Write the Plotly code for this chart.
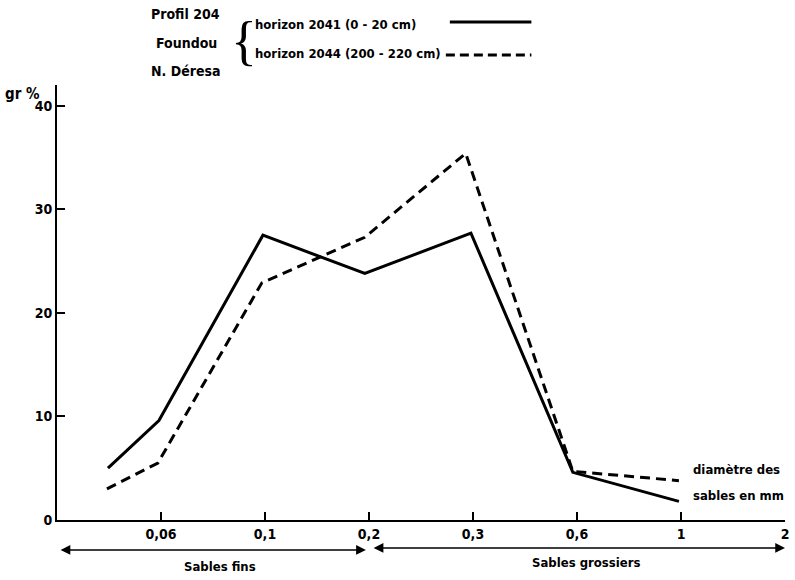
import plotly.graph_objects as go

# ---- data ----
tick_labels = ["0,06", "0,1", "0,2", "0,3", "0,6", "1", "2"]
tick_pos = [1, 2, 3, 4, 5, 6, 7]
y_ticks = [0, 10, 20, 30, 40]

x_2041 = [0.49, 0.98, 1.98, 2.96, 3.98, 4.96, 5.98]
y_2041 = [5.0, 9.6, 27.5, 23.8, 27.7, 4.6, 1.8]

x_2044 = [0.48, 0.97, 1.97, 2.96, 3.93, 4.96, 5.98]
y_2044 = [3.0, 5.5, 22.9, 27.3, 35.4, 4.7, 3.8]

FONT = "DejaVu Sans Condensed, Liberation Sans Narrow, Roboto, sans-serif"

W, H = 795, 580
L, R, T, B = 57, 6, 85, 60
XMAX, YMAX = 7.0, 42.0
pw, ph = W - L - R, H - T - B


def px_x(px):
    return (px - L) / pw


def px_y(py):
    return (H - B - py) / ph


fig = go.Figure()
fig.add_trace(go.Scatter(x=x_2041, y=y_2041, mode="lines",
                         line=dict(color="black", width=3), showlegend=False))
fig.add_trace(go.Scatter(x=x_2044, y=y_2044, mode="lines",
                         line=dict(color="black", width=3, dash="10px,6px"), showlegend=False))

fig.update_layout(
    width=W, height=H,
    margin=dict(l=L, r=R, t=T, b=B),
    paper_bgcolor="white", plot_bgcolor="white",
    font=dict(family=FONT, size=15, color="black"),
    showlegend=False,
)
fig.update_xaxes(range=[0, XMAX], tickvals=tick_pos, ticktext=tick_labels,
                 showgrid=False, zeroline=False, showline=True, linecolor="black", linewidth=2,
                 ticks="inside", ticklen=8, tickwidth=2, tickcolor="black",
                 tickfont=dict(family=FONT, size=14, color="black", weight="bold"))
fig.update_yaxes(range=[0, YMAX], tickvals=y_ticks,
                 showgrid=False, zeroline=False, showline=True, linecolor="black", linewidth=2,
                 ticks="inside", ticklen=8, tickwidth=2, tickcolor="black",
                 tickfont=dict(family=FONT, size=14, color="black", weight="bold"))

ann = []


def text(s, px, py, size=15, anchor="center", weight="bold"):
    ann.append(dict(text=s, xref="paper", yref="paper",
                    x=px_x(px), y=px_y(py), xanchor=anchor, yanchor="middle",
                    showarrow=False,
                    font=dict(family=FONT, size=size, color="black", weight=weight)))


text("Profil 204", 186, 14, size=14)
text("Foundou", 187, 43, size=14)
text("N. Déresa", 186, 71, size=14)
text("horizon 2041 (0 - 20 cm)", 254, 24, size=13, anchor="left")
text("horizon 2044 (200 - 220 cm)", 254, 53, size=13, anchor="left")
text("gr %", 22, 94, size=15)
text("diamètre des", 740, 469, size=13)
text("sables en mm", 742, 495, size=13)
text("Sables fins", 221, 566, size=13)
text("Sables grossiers", 589, 562, size=13)

ann.append(dict(text="{", xref="paper", yref="paper", x=px_x(245), y=px_y(41),
                xanchor="center", yanchor="middle", showarrow=False,
                font=dict(family="Liberation Serif, DejaVu Serif, serif", size=54, color="black")))

# range arrows under the axis
for x0, x1, py in [(0.02, 2.97, 550), (3.03, 7.0, 548)]:
    ann.append(dict(xref="x", yref="paper", axref="x", ayref="y domain",
                    x=x1, y=px_y(py), ax=x0, ay=px_y(py), text="",
                    showarrow=True, arrowside="end+start", arrowhead=2, startarrowhead=2,
                    arrowsize=1.3, startarrowsize=1.3, arrowwidth=1.5, arrowcolor="black"))

fig.update_layout(annotations=ann)

# legend samples
fig.add_shape(type="line", xref="paper", yref="paper", x0=px_x(452), x1=px_x(534),
              y0=px_y(22), y1=px_y(22), line=dict(color="black", width=3))
fig.add_shape(type="line", xref="paper", yref="paper", x0=px_x(448), x1=px_x(534),
              y0=px_y(55), y1=px_y(55), line=dict(color="black", width=3, dash="9px,5px"))

fig.write_html("out.html")
